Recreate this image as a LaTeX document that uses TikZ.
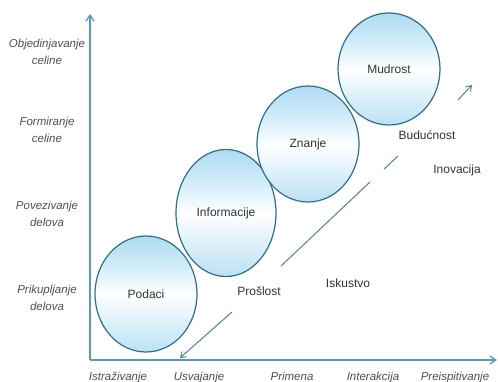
\documentclass[tikz,border=0pt]{standalone}
\usepackage{fontspec}
\setmainfont{Liberation Sans}
\usetikzlibrary{arrows.meta,shapes.geometric}
\definecolor{axiscol}{HTML}{5A9BB5}
\definecolor{edgecol}{HTML}{2F6F86}
\definecolor{linecol}{HTML}{4F8595}
\definecolor{axtext}{HTML}{505050}
\definecolor{intext}{HTML}{333333}
\definecolor{bA}{HTML}{B4DEF3}
\definecolor{bB}{HTML}{DDF1FA}
\definecolor{bC}{HTML}{D2ECF8}
\definecolor{bD}{HTML}{A6D7F0}
\pgfdeclareverticalshading{bubble}{100bp}{color(0bp)=(bA); color(22bp)=(bA); color(38bp)=(bB); color(50bp)=(white); color(62bp)=(bC); color(78bp)=(bD); color(100bp)=(bD)}
\tikzset{
  bubblenode/.style={ellipse, draw=edgecol, line width=1.2pt, shading=bubble, inner sep=0pt, font=\fontsize{12}{14}\selectfont, text=intext},
  axlabel/.style={font=\fontsize{11.5}{17}\selectfont\itshape, text=axtext, align=center, inner sep=0pt},
  xlabel/.style={font=\fontsize{11.5}{17}\selectfont\itshape, text=axtext, anchor=base, inner sep=0pt},
  inlabel/.style={font=\fontsize{12}{14}\selectfont, text=intext, inner sep=0pt},
  axisline/.style={draw=axiscol, line width=1.3pt, -{Straight Barb[length=6pt,width=8pt]}},
  diagline/.style={draw=linecol, line width=1pt}
}
\begin{document}
\begin{tikzpicture}[x=1pt,y=-1pt]
\useasboundingbox[fill=white] (0,0) rectangle (498,382);
% axes
\coordinate (O) at (90,360);
\coordinate (Ytop) at (90,14);
\coordinate (Xend) at (497,360);
\draw[axisline] (O) -- (Ytop);
\draw[axisline] (O) -- (Xend);
% y labels
\node[axlabel] (y1) at (47,52) {Objedinjavanje\\celine};
\node[axlabel] (y2) at (47,130) {Formiranje\\celine};
\node[axlabel] (y3) at (47,214) {Povezivanje\\delova};
\node[axlabel] (y4) at (47,298) {Prikupljanje\\delova};
% x labels
\node[xlabel] (x1) at (118,380) {Istraživanje};
\node[xlabel] (x2) at (199,380) {Usvajanje};
\node[xlabel] (x3) at (292,380) {Primena};
\node[xlabel] (x4) at (373,380) {Interakcija};
\node[xlabel] (x5) at (455,380) {Preispitivanje};
% bubbles
\node[bubblenode, minimum width=102pt, minimum height=116pt] (pod) at (146,294) {Podaci};
\node[bubblenode, minimum width=100pt, minimum height=127pt] (inf) at (226,213) {Informacije};
\node[bubblenode, minimum width=102pt, minimum height=116pt] (zna) at (308,144) {Znanje};
\node[bubblenode, minimum width=102pt, minimum height=112pt] (mud) at (389,69) {Mudrost};
% inner labels
\node[inlabel] (pro) at (259,291) {Prošlost};
\node[inlabel] (isk) at (348,283) {Iskustvo};
\node[inlabel] (bud) at (427,135) {Budućnost};
\node[inlabel] (ino) at (457,170) {Inovacija};
% diagonal lines
\coordinate (d1a) at (281,266);
\coordinate (d1b) at (370,182);
\coordinate (d2a) at (384,169);
\coordinate (d2b) at (398,156);
\coordinate (d3a) at (458,100);
\coordinate (d3b) at (472,85);
\coordinate (d4a) at (232,312);
\coordinate (d4b) at (180,358);
\draw[diagline] (d1a) -- (d1b);
\draw[diagline] (d2a) -- (d2b);
\draw[diagline, -{Straight Barb[length=5pt,width=7pt]}] (d3a) -- (d3b);
\draw[diagline, -{Straight Barb[length=5pt,width=7pt]}] (d4a) -- (d4b);
\end{tikzpicture}
\end{document}
